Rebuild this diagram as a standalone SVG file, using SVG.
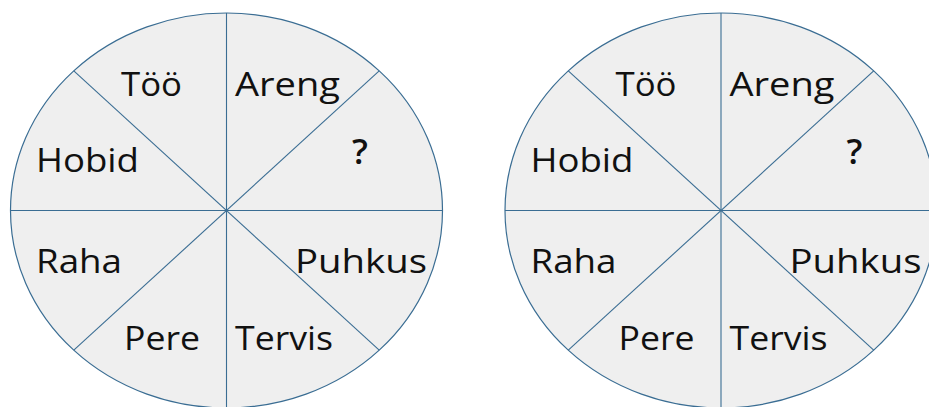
<svg xmlns="http://www.w3.org/2000/svg" width="929" height="407" viewBox="0 0 929 407">
<style>
.wheel{fill:#efefef;stroke:#3a6d93;stroke-width:1.2}
.spoke{stroke:#3a6d93;stroke-width:1.1;fill:none}
.lbl{font-family:"Open Sans","Liberation Sans",sans-serif;font-size:33px;fill:#111}
.q{font-size:35px;font-weight:600}
</style>
<rect width="929" height="407" fill="#ffffff"/>
<defs>
<g id="wheelShape">
<ellipse class="wheel" cx="0" cy="0" rx="216" ry="197.5"/>
<g class="spoke">
<line x1="0" y1="-197.5" x2="0" y2="197.5"/>
<line x1="-216" y1="0" x2="216" y2="0"/>
<line x1="-152.7" y1="-139.7" x2="152.7" y2="139.7"/>
<line x1="-152.7" y1="139.7" x2="152.7" y2="-139.7"/>
</g>
</g>
</defs>
<g id="wheel-left">
<use href="#wheelShape" x="226.5" y="210.5"/>
<g id="left-labels">
<text class="lbl" x="121" y="95.7" textLength="61" lengthAdjust="spacingAndGlyphs">Töö</text>
<text class="lbl" x="235" y="95.7" textLength="105" lengthAdjust="spacingAndGlyphs">Areng</text>
<text class="lbl" x="36" y="172.3" textLength="103" lengthAdjust="spacingAndGlyphs">Hobid</text>
<text class="lbl q" x="352" y="164">?</text>
<text class="lbl" x="36" y="273.3" textLength="86" lengthAdjust="spacingAndGlyphs">Raha</text>
<text class="lbl" x="295" y="273.3" textLength="132" lengthAdjust="spacingAndGlyphs">Puhkus</text>
<text class="lbl" x="124" y="350" textLength="76" lengthAdjust="spacingAndGlyphs">Pere</text>
<text class="lbl" x="235" y="350" textLength="98" lengthAdjust="spacingAndGlyphs">Tervis</text>
</g>
</g>
<g id="wheel-right">
<use href="#wheelShape" x="721" y="210.5"/>
<g id="right-labels">
<text class="lbl" x="615.5" y="95.7" textLength="61" lengthAdjust="spacingAndGlyphs">Töö</text>
<text class="lbl" x="729.5" y="95.7" textLength="105" lengthAdjust="spacingAndGlyphs">Areng</text>
<text class="lbl" x="530.5" y="172.3" textLength="103" lengthAdjust="spacingAndGlyphs">Hobid</text>
<text class="lbl q" x="846.5" y="164">?</text>
<text class="lbl" x="530.5" y="273.3" textLength="86" lengthAdjust="spacingAndGlyphs">Raha</text>
<text class="lbl" x="789.5" y="273.3" textLength="132" lengthAdjust="spacingAndGlyphs">Puhkus</text>
<text class="lbl" x="618.5" y="350" textLength="76" lengthAdjust="spacingAndGlyphs">Pere</text>
<text class="lbl" x="729.5" y="350" textLength="98" lengthAdjust="spacingAndGlyphs">Tervis</text>
</g>
</g>
</svg>
